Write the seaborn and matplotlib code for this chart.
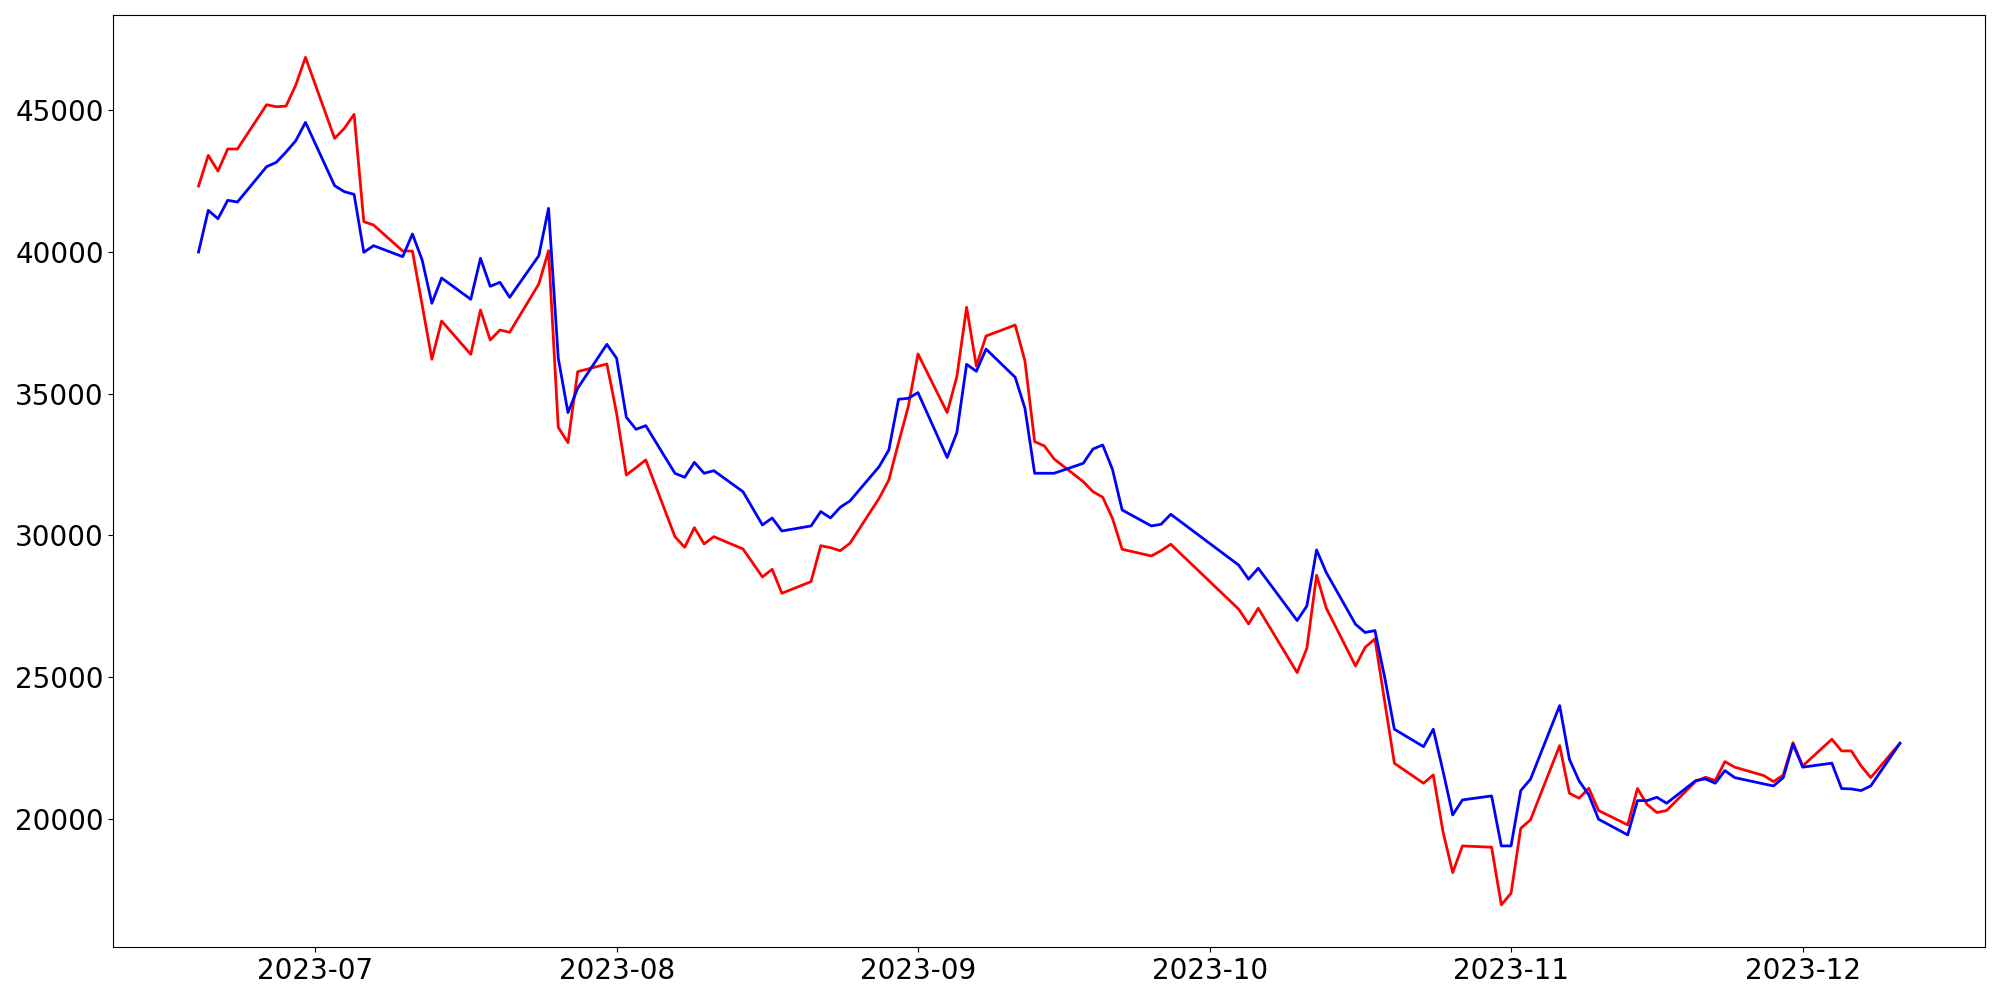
import pandas as pd
import matplotlib
matplotlib.use("Agg")
import matplotlib.pyplot as plt
import seaborn as sns

# dias habiles (mercado coreano), sin feriados
feriados = ["2023-08-15", "2023-09-28", "2023-09-29", "2023-10-02", "2023-10-03", "2023-10-09"]
fechas = pd.bdate_range("2023-06-19", "2023-12-11", freq="C", holidays=feriados)

serie_roja = [
    42320, 43400, 42850, 43625, 43625, 45187, 45116, 45140, 45880, 46857,
    44000, 44355, 44848, 41062, 40945, 40028, 40028, 38124, 36210, 37560,
    36385, 37948, 36890, 37242, 37162, 38865, 40040, 33812, 33269, 35773, 36044,
    34305, 32130, 32390, 32660, 29955, 29580, 30272, 29697, 29955, 29520,
    28533, 28803, 27958, 28368, 29637, 29566, 29460, 29720, 31305, 31954, 33269, 34540,
    36396, 34330, 35603, 38043, 35973, 37030, 37418, 36150, 33305, 33153,
    32695, 31894, 31541, 31346, 30603, 29510, 29274, 29460, 29687,
    27393, 26876, 27430, 25159, 26018, 28594, 27430, 25395, 26055, 26347,
    24150, 21963, 21258, 21551, 19553, 18107, 19048, 19002, 16968,
    17380, 19672, 19965, 22585, 20907, 20730, 21082, 20296, 19789, 21070,
    20510, 20226, 20296, 21330, 21470, 21352, 22021, 21826, 21528, 21316, 21551, 22692,
    21870, 22811, 22398, 22398, 21870, 21458, 22668,
]

serie_azul = [
    39993, 41462, 41167, 41816, 41756, 43001, 43156, 43519, 43918, 44565,
    42331, 42120, 42027, 39982, 40217, 39828, 40628, 39710, 38184, 39076,
    38325, 39770, 38783, 38924, 38395, 39863, 41534, 36245, 34330, 35190, 36738,
    36245, 34168, 33740, 33870, 32190, 32047, 32576, 32190, 32281, 31541,
    30367, 30614, 30155, 30332, 30840, 30614, 30990, 31213, 32423, 33011, 34799, 34834,
    35034, 32745, 33627, 36033, 35786, 36569, 35575, 34483, 32190, 32190,
    32190, 32542, 33046, 33187, 32331, 30896, 30332, 30391, 30744,
    28948, 28454, 28842, 26996, 27511, 29485, 28686, 26867, 26574, 26644,
    25000, 23164, 22548, 23164, 21692, 20141, 20670, 20811, 19048,
    19048, 21000, 21400, 23996, 22105, 21340, 20846, 19990, 19436, 20646,
    20646, 20764, 20553, 21352, 21410, 21258, 21704, 21458, 21234, 21164, 21458, 22634,
    21826, 21966, 21070, 21058, 21000, 21164, 22668,
]

df = pd.DataFrame({"fecha": fechas, "roja": serie_roja, "azul": serie_azul})

fig, ax = plt.subplots(figsize=(20, 10), dpi=100)
sns.lineplot(data=df, x="fecha", y="roja", color="red", linewidth=2, ax=ax)
sns.lineplot(data=df, x="fecha", y="azul", color="blue", linewidth=2, ax=ax)
ax.set_xlabel("")
ax.set_ylabel("")
plt.xticks(fontsize=20)
plt.yticks(fontsize=20)
plt.tight_layout()
plt.savefig("out.png")
